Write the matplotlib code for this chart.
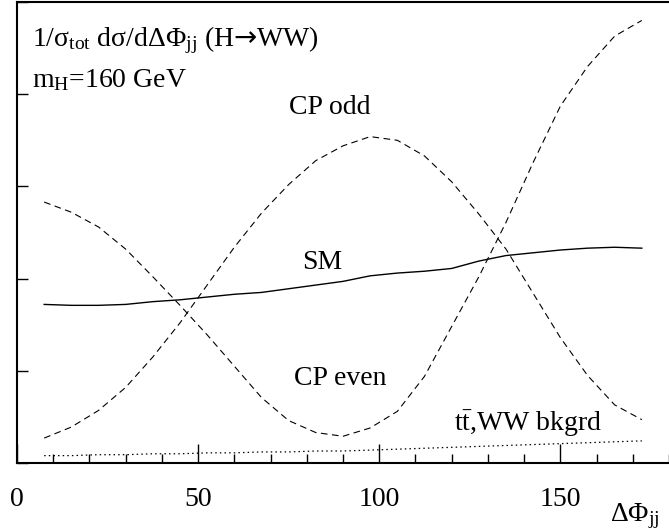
import matplotlib
matplotlib.use("Agg")
import matplotlib.pyplot as plt
from matplotlib.ticker import MultipleLocator

plt.rcParams["font.family"] = ["Liberation Serif", "DejaVu Sans"]
plt.rcParams["mathtext.fontset"] = "custom"
plt.rcParams["mathtext.rm"] = "Liberation Serif"
plt.rcParams["mathtext.it"] = "Liberation Serif"
plt.rcParams["mathtext.sf"] = "DejaVu Sans"

# ── data (arbitrary units, 1 unit = 1 y-tick) ────────────────────────────────
dphi = [7.5, 15, 22.5, 30, 37.5, 45, 52.5, 60, 67.5, 75, 82.5, 90,
        97.5, 105, 112.5, 120, 127.5, 135, 142.5, 150, 157.5, 165, 172.5]

cp_even = [2.83, 2.72, 2.56, 2.32, 2.02, 1.71, 1.39, 1.05, 0.71, 0.46, 0.33, 0.29,
           0.38, 0.56, 0.94, 1.48, 2.02, 2.61, 3.26, 3.87, 4.30, 4.63, 4.80]

cp_odd = [0.27, 0.39, 0.57, 0.82, 1.15, 1.52, 1.93, 2.34, 2.71, 3.02, 3.28, 3.44,
          3.54, 3.50, 3.33, 3.05, 2.70, 2.32, 1.84, 1.36, 0.95, 0.63, 0.47]

sm = [1.72, 1.71, 1.71, 1.72, 1.75, 1.77, 1.80, 1.83, 1.85, 1.89, 1.93, 1.97,
      2.03, 2.06, 2.08, 2.11, 2.19, 2.25, 2.28, 2.31, 2.33, 2.34, 2.33]

bkgd = [0.08, 0.08, 0.09, 0.09, 0.10, 0.10, 0.11, 0.11, 0.12, 0.12, 0.13, 0.13,
        0.14, 0.15, 0.16, 0.17, 0.18, 0.19, 0.20, 0.21, 0.22, 0.23, 0.24]

x_ticks = [0, 50, 100, 150]

# ── figure ───────────────────────────────────────────────────────────────────
fig = plt.figure(figsize=(6.69, 5.31), dpi=100)
ax = fig.add_axes([17 / 669, 68 / 531, 652 / 669, 461 / 531])

dash = (0, (6, 4))
ax.plot(dphi, cp_even, color="black", lw=0.8, linestyle=dash)
ax.plot(dphi, cp_odd, color="black", lw=0.8, linestyle=dash)
ax.plot(dphi, sm, color="black", lw=1.0)
ax.plot(dphi, bkgd, color="black", lw=0.9, linestyle=(0, (1.2, 2.5)))

ax.set_xlim(0, 180)
ax.set_ylim(0, 5)
ax.set_xticks(x_ticks)
ax.set_xticklabels([str(t) for t in x_ticks])
ax.xaxis.set_minor_locator(MultipleLocator(10))
ax.yaxis.set_major_locator(MultipleLocator(1))
ax.set_yticklabels([])

ax.tick_params(axis="x", which="major", direction="in", length=14, width=1.0,
               labelsize=20, pad=17)
ax.tick_params(axis="x", which="minor", direction="in", length=6.5, width=1.0)
ax.tick_params(axis="y", which="major", direction="in", length=8, width=1.0)
ax.tick_params(top=False, right=False)

for s in ["left", "bottom", "top"]:
    ax.spines[s].set_linewidth(1.5)
ax.spines["right"].set_visible(False)

# ── labels ───────────────────────────────────────────────────────────────────
ax.text(4.1, 4.59, r"1/σ$_{\rm tot}$ dσ/dΔΦ$_{\rm jj}$ (H$\mathsf{→}$WW)",
        fontsize=20, ha="left", va="center")
ax.text(4.1, 4.15, r"m$_{\rm H}$=160 GeV", fontsize=20, ha="left", va="center")
ax.text(86.4, 3.86, "CP odd", fontsize=20, ha="center", va="center")
ax.text(84.2, 2.18, "SM", fontsize=20, ha="center", va="center")
ax.text(89.2, 0.92, "CP even", fontsize=20, ha="center", va="center")
ax.text(141, 0.43, r"t$\bar{\rm t}$,WW bkgrd", fontsize=20, ha="center", va="center")

fig.text(610 / 669, 1 - 516 / 531, r"ΔΦ$_{\rm jj}$", fontsize=20,
         ha="left", va="center")

fig.savefig("out.png", dpi=100)
